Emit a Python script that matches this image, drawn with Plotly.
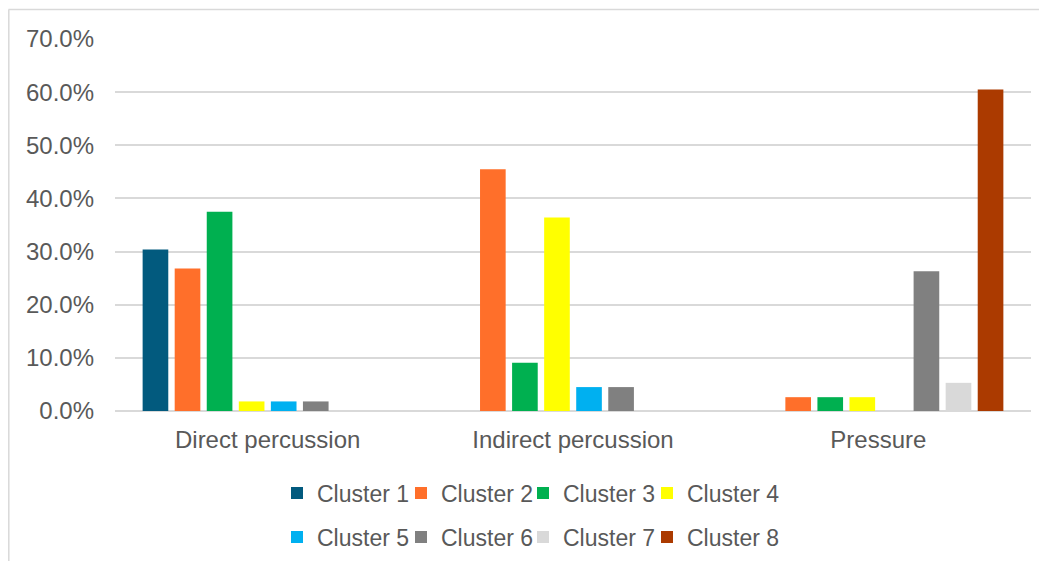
import plotly.graph_objects as go

categories = ["Direct percussion", "Indirect percussion", "Pressure"]
series_names = ["Cluster 1", "Cluster 2", "Cluster 3", "Cluster 4",
                "Cluster 5", "Cluster 6", "Cluster 7", "Cluster 8"]
cluster1 = [0.304, 0.0, 0.0]
cluster2 = [0.268, 0.455, 0.026]
cluster3 = [0.375, 0.091, 0.026]
cluster4 = [0.018, 0.364, 0.026]
cluster5 = [0.018, 0.045, 0.0]
cluster6 = [0.018, 0.045, 0.263]
cluster7 = [0.0, 0.0, 0.053]
cluster8 = [0.0, 0.0, 0.605]
values = [cluster1, cluster2, cluster3, cluster4, cluster5, cluster6, cluster7, cluster8]
colors = ["#025A7E", "#FF6F2A", "#00B050", "#FFFF00",
          "#00B0F0", "#808080", "#D9D9D9", "#AB3A00"]

FONT = "Liberation Sans, Arial, sans-serif"
TXT = "#595959"
FS = 24
LEG_FS = 23

# page body has an 8px margin; work in reference pixel coords minus that offset
OFF = 8
W, H = 1047 - OFF, 569 - 2 * OFF
L, T = 115 - OFF, 39 - OFF
R = W - (1031 - OFF)
B = H - (411 - OFF)
pw, ph = W - L - R, H - T - B

def px_x(x):
    return (x - OFF - L) / pw

def px_y(y):
    return (H - B - (y - OFF)) / ph

# legend text start positions (reference px) and row centres
legend_text_x = [317, 441, 563, 687]
legend_row_y = [493, 537]

fig = go.Figure()
legend_layout = {}
for i, (name, vals, col) in enumerate(zip(series_names, values, colors)):
    key = "legend" if i == 0 else f"legend{i + 1}"
    fig.add_trace(go.Bar(
        x=categories, y=vals, name=name,
        marker=dict(color=col, line=dict(width=0)),
        legend=key, showlegend=True,
        hoverinfo="skip",
    ))
    legend_layout[key] = dict(
        orientation="h", xanchor="left", yanchor="middle",
        x=px_x(legend_text_x[i % 4] - 40), y=px_y(legend_row_y[i // 4]),
        font=dict(family=FONT, size=LEG_FS, color=TXT),
        bgcolor="rgba(0,0,0,0)", itemwidth=30, borderwidth=0,
        itemclick=False, itemdoubleclick=False,
    )

fig.update_layout(
    width=W, height=H,
    showlegend=True,
    margin=dict(l=L, r=R, t=T, b=B, autoexpand=False),
    paper_bgcolor="white", plot_bgcolor="white",
    barmode="group", bargap=0.16, bargroupgap=0.2,
    font=dict(family=FONT, size=FS, color=TXT),
    xaxis=dict(
        showgrid=False, showline=False, ticks="",
        tickfont=dict(family=FONT, size=FS, color=TXT),
        ticklabelstandoff=12,
    ),
    yaxis=dict(
        range=[0, 0.7], dtick=0.1, tickformat=".1%",
        showgrid=True, gridcolor="#D9D9D9", gridwidth=1.5,
        zeroline=True, zerolinecolor="#D9D9D9", zerolinewidth=1.5,
        showline=False, ticks="",
        tickfont=dict(family=FONT, size=FS, color=TXT),
        ticklabelstandoff=20,
    ),
    shapes=[
        dict(type="line", xref="paper", yref="paper",
             x0=px_x(8.5), x1=px_x(1046), y0=px_y(9.5), y1=px_y(9.5),
             line=dict(color="#D9D9D9", width=1.5)),
        dict(type="line", xref="paper", yref="paper",
             x0=px_x(8.8), x1=px_x(8.8), y0=px_y(9.5), y1=px_y(569),
             line=dict(color="#D9D9D9", width=1.5)),
    ],
    **legend_layout,
)

fig.write_html("out.html")
